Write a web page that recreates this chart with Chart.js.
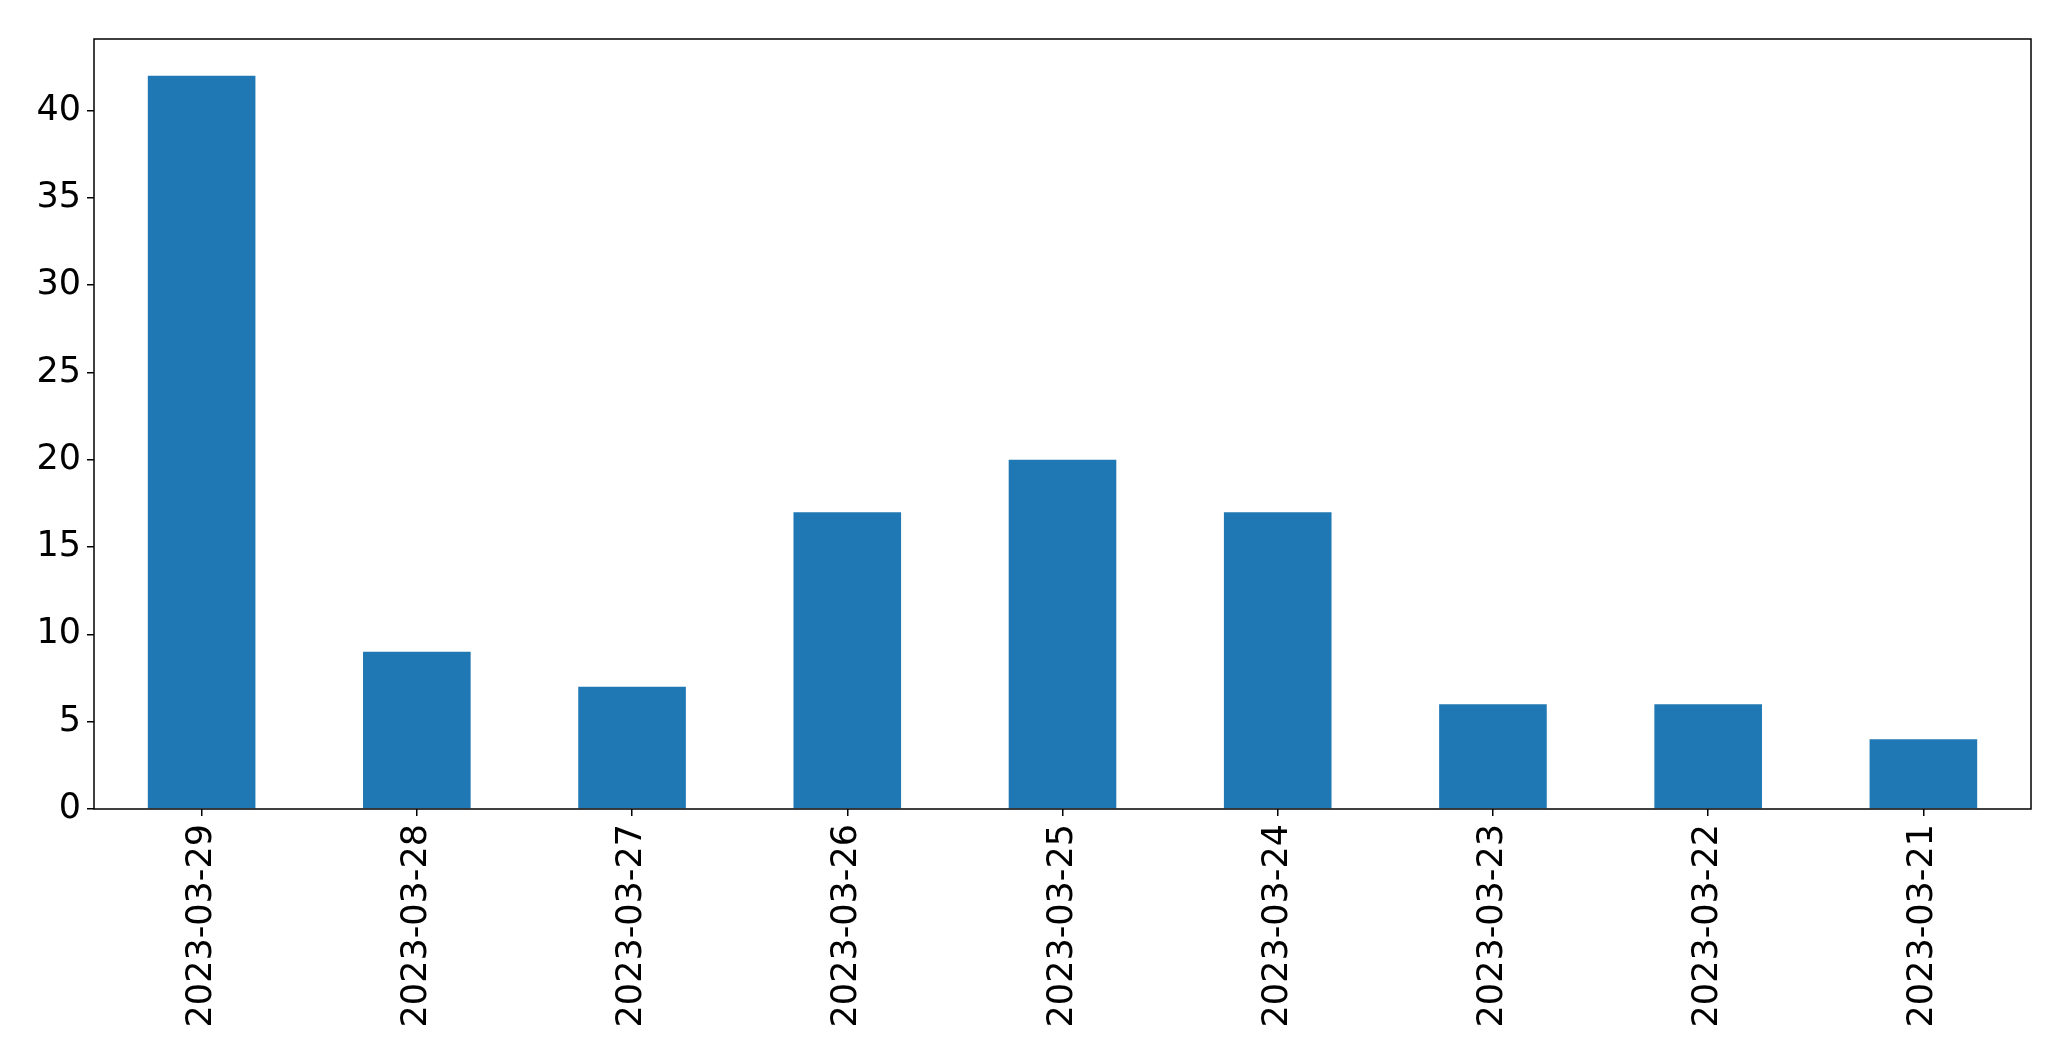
<!DOCTYPE html>
<html>
<head>
<meta charset="utf-8">
<script src="https://cdn.jsdelivr.net/npm/chart.js@4"></script>
<style>
  html, body { margin: 0; padding: 0; background: #fff; }
  #wrap { width: 2071px; height: 1061px; }
</style>
</head>
<body>
<div id="wrap"><canvas id="c" width="2071" height="1061"></canvas></div>
<script>
// Daily counts, newest first
const dates = ['2023-03-29', '2023-03-28', '2023-03-27', '2023-03-26', '2023-03-25',
               '2023-03-24', '2023-03-23', '2023-03-22', '2023-03-21'];
const counts = [42, 9, 7, 17, 20, 17, 6, 6, 4];
const yTicks = [0, 5, 10, 15, 20, 25, 30, 35, 40];

const font = { family: 'DejaVu Sans', size: 35 };

// Draw the full box around the plot area
const frame = {
  id: 'frame',
  afterDraw(chart) {
    const { ctx, chartArea: a } = chart;
    ctx.save();
    ctx.strokeStyle = '#000';
    ctx.lineWidth = 1.5;
    ctx.strokeRect(a.left, a.top, a.right - a.left, a.bottom - a.top);
    ctx.restore();
  }
};

new Chart(document.getElementById('c'), {
  type: 'bar',
  data: {
    labels: dates,
    datasets: [{
      data: counts,
      backgroundColor: '#1f77b4',
      borderWidth: 0,
      categoryPercentage: 1,
      barPercentage: 0.5
    }]
  },
  options: {
    responsive: false,
    animation: false,
    layout: { padding: { top: 39, right: 40, left: 0, bottom: 0 } },
    plugins: { legend: { display: false }, tooltip: { enabled: false } },
    scales: {
      x: {
        grid: { offset: false, drawOnChartArea: false, drawTicks: true, tickLength: 7, tickColor: '#000', lineWidth: 1.5 },
        border: { display: false },
        ticks: { color: '#000', font: font, minRotation: 90, maxRotation: 90, autoSkip: false, padding: 8 },
        afterFit(scale) { scale.height = 1061 - 809; }
      },
      y: {
        min: 0,
        max: 44.1,
        grid: { drawOnChartArea: false, drawTicks: true, tickLength: 7, tickColor: '#000', lineWidth: 1.5 },
        border: { display: false },
        ticks: { color: '#000', font: font, padding: 6 },
        afterBuildTicks(scale) { scale.ticks = yTicks.map(v => ({ value: v })); },
        afterFit(scale) { scale.width = 94; }
      }
    }
  },
  plugins: [frame]
});
</script>
</body>
</html>
